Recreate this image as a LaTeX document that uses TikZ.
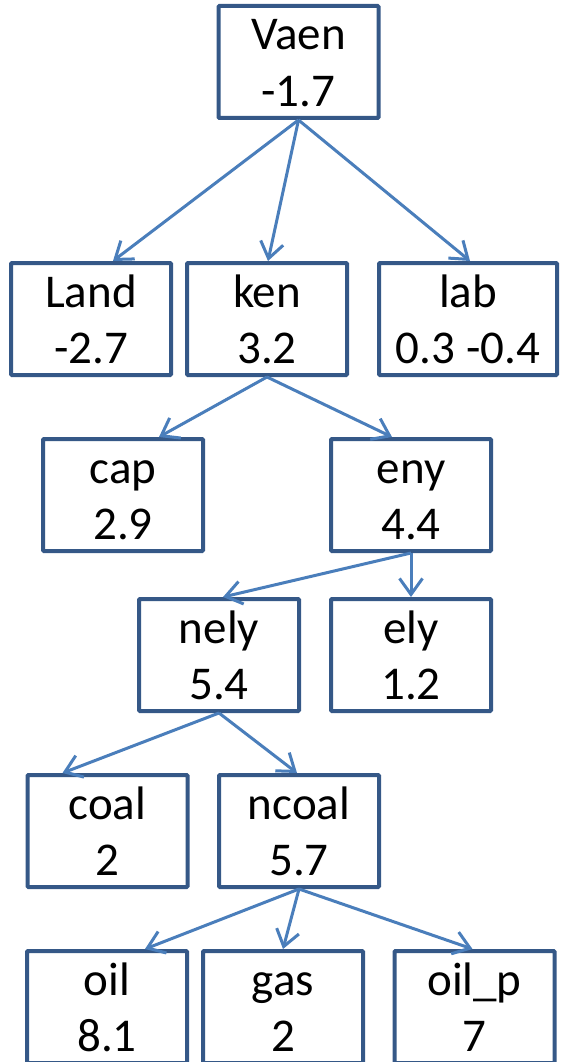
\documentclass[tikz,border=0pt]{standalone}
\usepackage{fontspec}
\setmainfont{Carlito}
\usetikzlibrary{arrows.meta}
\definecolor{boxline}{HTML}{355887}
\definecolor{linkline}{HTML}{4A7EBB}
% Two centred lines in a fixed box: baselines 44pt and 100pt below the top
\newcommand\twoline[3][160pt]{\vbox to 112pt{\offinterlineskip\hsize=#1
  \kern44pt\hbox to\hsize{\hss\smash{#2}\hss}%
  \kern56pt\hbox to\hsize{\hss\smash{#3}\hss}\vss}}
\tikzset{
  box/.style={rectangle, draw=boxline, line width=4pt, fill=white,
    inner sep=0pt, rounded corners=1pt, font=\fontsize{47}{56}\selectfont},
  link/.style={draw=linkline, line width=3pt,
    -{Straight Barb[length=16pt,width=23pt]}}
}
\begin{document}
\begin{tikzpicture}[x=1pt, y=-1pt]
  \useasboundingbox (0,0) rectangle (562,1062);

  % variables of the tree
  \node[box] (vaen)  at (298.5,62)  {\twoline{Vaen}{-1.7}};
  \node[box] (land)  at (91,319)    {\twoline{Land}{-2.7}};
  \node[box] (ken)   at (267,319)   {\twoline{ken}{3.2}};
  \node[box] (lab)   at (468,319)   {\twoline[178pt]{lab}{0.3 -0.4}};
  \node[box] (cap)   at (123,495)   {\twoline{cap}{2.9}};
  \node[box] (eny)   at (411,495)   {\twoline{eny}{4.4}};
  \node[box] (nely)  at (219,655)   {\twoline{nely}{5.4}};
  \node[box] (ely)   at (411,655)   {\twoline{ely}{1.2}};
  \node[box] (coal)  at (107.5,831) {\twoline{coal}{2}};
  \node[box] (ncoal) at (299,831)   {\twoline{ncoal}{5.7}};
  \node[box] (oil)   at (107,1007)  {\twoline{oil}{8.1}};
  \node[box] (gas)   at (283,1007)  {\twoline{gas}{2}};
  \node[box] (oilp)  at (474.5,1007){\twoline{oil\_p}{7}};

  % nesting links
  \draw[link] (vaen.south) -- ([xshift=22pt]land.north);
  \draw[link] (vaen.south) -- ([xshift=1pt]ken.north);
  \draw[link] (vaen.south) -- ([xshift=2pt]lab.north);
  \draw[link] (ken.south)  -- ([xshift=36pt]cap.north);
  \draw[link] (ken.south)  -- ([xshift=-19pt]eny.north);
  \draw[link] (eny.south)  -- ([xshift=4pt]nely.north);
  \draw[link] (eny.south)  -- (ely.north);
  \draw[link] (nely.south) -- ([xshift=-45pt]coal.north);
  \draw[link] (nely.south) -- ([xshift=-2pt]ncoal.north);
  \draw[link] (ncoal.south) -- ([xshift=38pt]oil.north);
  \draw[link] (ncoal.south) -- (gas.north);
  \draw[link] (ncoal.south) -- ([xshift=-2pt]oilp.north);
\end{tikzpicture}
\end{document}
